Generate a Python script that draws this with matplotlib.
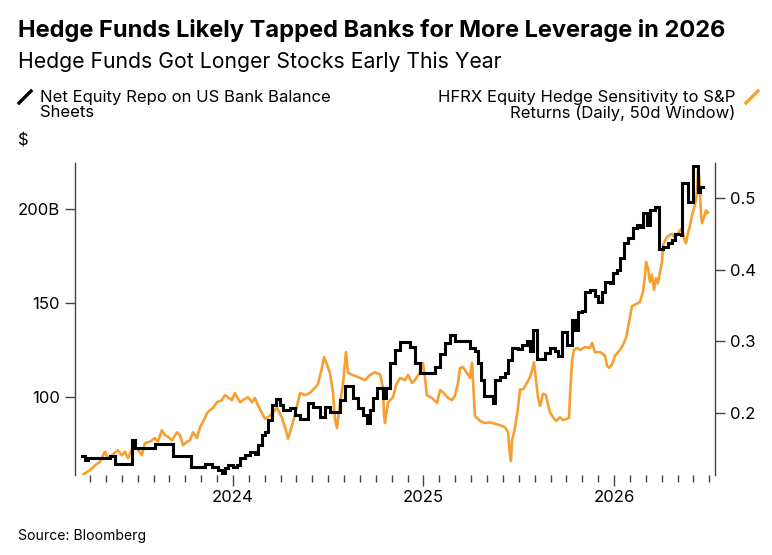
import matplotlib
matplotlib.use("Agg")
import matplotlib.pyplot as plt
from matplotlib.ticker import FixedLocator, MultipleLocator, FuncFormatter
from matplotlib.lines import Line2D

plt.rcParams['font.family'] = ['Inter', 'DejaVu Sans']

# ---- data (x in decimal years) ----
repo_t = [2023.207, 2023.223, 2023.239, 2023.354, 2023.381, 2023.470, 2023.486, 2023.591,
          2023.685, 2023.780, 2023.853, 2023.890, 2023.921, 2023.942, 2023.958, 2023.974,
          2024.000, 2024.021, 2024.037, 2024.063, 2024.089, 2024.115, 2024.131, 2024.152,
          2024.168, 2024.184, 2024.205, 2024.226, 2024.247, 2024.262, 2024.299, 2024.325,
          2024.352, 2024.394, 2024.420, 2024.457, 2024.483, 2024.509, 2024.562, 2024.588,
          2024.630, 2024.656, 2024.682, 2024.703, 2024.719, 2024.735, 2024.756, 2024.787,
          2024.803, 2024.824, 2024.850, 2024.877, 2024.929, 2024.955, 2024.982, 2025.060,
          2025.087, 2025.113, 2025.139, 2025.165, 2025.244, 2025.270, 2025.286, 2025.302,
          2025.318, 2025.365, 2025.375, 2025.402, 2025.428, 2025.444, 2025.465, 2025.496,
          2025.517, 2025.543, 2025.559, 2025.575, 2025.596, 2025.638, 2025.664, 2025.690,
          2025.706, 2025.727, 2025.753, 2025.780, 2025.795, 2025.811, 2025.832, 2025.848,
          2025.874, 2025.900, 2025.916, 2025.937, 2025.953, 2025.979, 2025.995, 2026.016,
          2026.031, 2026.052, 2026.073, 2026.100, 2026.121, 2026.136, 2026.152, 2026.173,
          2026.189, 2026.215, 2026.236, 2026.257, 2026.283, 2026.304, 2026.320, 2026.352,
          2026.357, 2026.388, 2026.415, 2026.441, 2026.451, 2026.467]
repo_v = [68.6, 66.5, 67.5, 68.6, 64.4, 77.0, 72.9, 75.0,
          68.8, 62.5, 64.5, 62.8, 61.0, 58.5, 62.0, 63.8,
          62.5, 64.0, 67.6, 69.0, 70.7, 69.5, 74.5, 80.0,
          81.4, 87.8, 95.7, 99.0, 95.5, 93.0, 94.0, 90.4,
          88.3, 97.0, 94.7, 89.4, 94.7, 92.0, 98.4, 106.0,
          99.5, 94.0, 90.4, 86.0, 93.0, 99.5, 104.8, 99.5,
          104.8, 118.0, 125.0, 129.5, 126.6, 118.0, 112.8, 116.0,
          123.0, 128.7, 133.0, 130.0, 126.0, 124.5, 118.0, 109.0,
          100.5, 96.8, 109.0, 110.6, 113.0, 119.7, 126.0, 125.5,
          127.7, 130.0, 124.4, 135.6, 120.0, 123.4, 126.0, 124.5,
          122.0, 134.6, 127.7, 141.0, 135.6, 145.0, 146.0, 156.0,
          157.0, 154.0, 150.5, 156.0, 161.0, 160.6, 166.0, 167.6,
          174.0, 182.0, 184.6, 190.0, 191.5, 190.5, 198.0, 191.5,
          199.5, 201.0, 179.0, 179.8, 182.0, 183.5, 186.7, 186.0,
          214.0, 204.0, 223.0, 209.0, 211.7, 211.7]

hfrx_t = [2023.207, 2023.223, 2023.249, 2023.276, 2023.302, 2023.328, 2023.344, 2023.365,
          2023.396, 2023.417, 2023.433, 2023.449, 2023.470, 2023.496, 2023.522, 2023.538,
          2023.564, 2023.591, 2023.606, 2023.627, 2023.643, 2023.659, 2023.680, 2023.706,
          2023.722, 2023.738, 2023.759, 2023.774, 2023.790, 2023.811, 2023.827, 2023.853,
          2023.864, 2023.879, 2023.895, 2023.916, 2023.942, 2023.958, 2023.974, 2023.995,
          2024.010, 2024.037, 2024.052, 2024.079, 2024.100, 2024.115, 2024.131, 2024.152,
          2024.168, 2024.194, 2024.220, 2024.231, 2024.257, 2024.278, 2024.289, 2024.299,
          2024.325, 2024.352, 2024.378, 2024.404, 2024.430, 2024.446, 2024.467, 2024.478,
          2024.493, 2024.509, 2024.525, 2024.535, 2024.546, 2024.562, 2024.577, 2024.593,
          2024.604, 2024.640, 2024.667, 2024.693, 2024.719, 2024.745, 2024.772, 2024.787,
          2024.793, 2024.798, 2024.814, 2024.840, 2024.856, 2024.877, 2024.903, 2024.919,
          2024.940, 2024.955, 2024.982, 2024.997, 2025.008, 2025.018, 2025.045, 2025.071,
          2025.087, 2025.102, 2025.129, 2025.150, 2025.165, 2025.181, 2025.192, 2025.207,
          2025.228, 2025.244, 2025.255, 2025.260, 2025.270, 2025.297, 2025.323, 2025.349,
          2025.375, 2025.402, 2025.428, 2025.444, 2025.454, 2025.459, 2025.465, 2025.480,
          2025.496, 2025.507, 2025.522, 2025.543, 2025.559, 2025.570, 2025.580, 2025.591,
          2025.601, 2025.612, 2025.627, 2025.643, 2025.654, 2025.664, 2025.680, 2025.696,
          2025.717, 2025.732, 2025.753, 2025.764, 2025.769, 2025.780, 2025.790, 2025.806,
          2025.822, 2025.848, 2025.874, 2025.885, 2025.900, 2025.927, 2025.953, 2025.963,
          2025.974, 2025.990, 2026.005, 2026.031, 2026.047, 2026.063, 2026.079, 2026.094,
          2026.115, 2026.136, 2026.152, 2026.163, 2026.168, 2026.178, 2026.189, 2026.199,
          2026.210, 2026.220, 2026.231, 2026.241, 2026.252, 2026.257, 2026.268, 2026.283,
          2026.304, 2026.320, 2026.336, 2026.346, 2026.357, 2026.367, 2026.378, 2026.388,
          2026.399, 2026.409, 2026.420, 2026.430, 2026.436, 2026.441, 2026.446, 2026.451,
          2026.457, 2026.462, 2026.472, 2026.483, 2026.488, 2026.493]
hfrx_v = [0.112, 0.116, 0.120, 0.127, 0.132, 0.146, 0.137, 0.141,
          0.148, 0.141, 0.146, 0.137, 0.150, 0.151, 0.141, 0.158,
          0.160, 0.165, 0.160, 0.176, 0.169, 0.167, 0.162, 0.173,
          0.169, 0.155, 0.160, 0.162, 0.173, 0.165, 0.180, 0.193,
          0.200, 0.204, 0.207, 0.215, 0.218, 0.225, 0.222, 0.218,
          0.228, 0.215, 0.218, 0.222, 0.215, 0.221, 0.211, 0.200,
          0.192, 0.196, 0.204, 0.207, 0.194, 0.176, 0.164, 0.173,
          0.197, 0.228, 0.225, 0.228, 0.235, 0.240, 0.263, 0.278,
          0.268, 0.256, 0.229, 0.193, 0.179, 0.215, 0.239, 0.285,
          0.256, 0.252, 0.249, 0.246, 0.253, 0.257, 0.254, 0.236,
          0.197, 0.186, 0.215, 0.222, 0.239, 0.249, 0.246, 0.253,
          0.242, 0.246, 0.257, 0.270, 0.249, 0.225, 0.221, 0.214,
          0.232, 0.229, 0.221, 0.218, 0.224, 0.242, 0.263, 0.264,
          0.256, 0.249, 0.270, 0.246, 0.196, 0.189, 0.186, 0.187,
          0.185, 0.183, 0.180, 0.173, 0.141, 0.133, 0.162, 0.179,
          0.207, 0.233, 0.233, 0.242, 0.250, 0.260, 0.271, 0.246,
          0.222, 0.210, 0.227, 0.225, 0.211, 0.201, 0.194, 0.189,
          0.194, 0.190, 0.192, 0.193, 0.225, 0.274, 0.288, 0.291,
          0.288, 0.292, 0.291, 0.298, 0.285, 0.285, 0.280, 0.266,
          0.263, 0.268, 0.280, 0.288, 0.295, 0.305, 0.327, 0.349,
          0.352, 0.355, 0.369, 0.393, 0.411, 0.402, 0.383, 0.393,
          0.372, 0.388, 0.381, 0.397, 0.411, 0.434, 0.441, 0.447,
          0.450, 0.445, 0.451, 0.455, 0.458, 0.444, 0.437, 0.451,
          0.462, 0.476, 0.486, 0.497, 0.511, 0.539, 0.532, 0.511,
          0.476, 0.465, 0.473, 0.483, 0.479, 0.480]

year_ticks = [2024, 2025, 2026]
left_ticks = [100, 150, 200]
right_ticks = [0.2, 0.3, 0.4, 0.5]

title = "Hedge Funds Likely Tapped Banks for More Leverage in 2026"
subtitle = "Hedge Funds Got Longer Stocks Early This Year"
label_repo = "Net Equity Repo on US Bank Balance\nSheets"
label_hfrx = "HFRX Equity Hedge Sensitivity to S&P\nReturns (Daily, 50d Window)"
source = "Source: Bloomberg"

BLACK = "#000000"
ORANGE = "#F6A032"
W, H = 772, 555

fig = plt.figure(figsize=(W / 100, H / 100), dpi=100)
ax = fig.add_axes([75 / W, 1 - 475 / H, (715 - 75) / W, (475 - 163) / H])
ax2 = ax.twinx()
ax.set_zorder(ax2.get_zorder() + 1)
ax.patch.set_visible(False)

ax2.plot(hfrx_t, hfrx_v, color=ORANGE, lw=1.9, solid_joinstyle='round')
ax.plot(repo_t, repo_v, color=BLACK, lw=2.2, drawstyle='steps-post', solid_joinstyle='miter')

ax.set_xlim(2023.171, 2026.530)
ax.set_ylim(58.5, 224.5)
ax2.set_ylim(0.1135, 0.549)

for a in (ax, ax2):
    for s in ('top', 'bottom'):
        a.spines[s].set_visible(False)
    a.spines['left'].set_color('#444444')
    a.spines['right'].set_color('#444444')
    a.spines['left'].set_linewidth(1.0)
    a.spines['right'].set_linewidth(1.0)
ax.spines['right'].set_visible(False)
ax2.spines['left'].set_visible(False)

ax.xaxis.set_major_locator(FixedLocator(year_ticks))
ax.xaxis.set_major_formatter(FuncFormatter(lambda v, p: f"{int(round(v))}"))
ax.xaxis.set_minor_locator(MultipleLocator(1 / 12))
ax.tick_params(axis='x', which='major', length=8, width=1.0, color='#444444',
               labelsize=12, pad=3)
ax.tick_params(axis='x', which='minor', length=5, width=1.0, color='#444444')

ax.yaxis.set_major_locator(FixedLocator(left_ticks))
ax.yaxis.set_major_formatter(FuncFormatter(lambda v, p: "200B" if v == 200 else f"{int(v)}"))
ax.tick_params(axis='y', length=7, width=1.0, color='#444444', labelsize=12, pad=4)

ax2.yaxis.set_major_locator(FixedLocator(right_ticks))
ax2.yaxis.set_major_formatter(FuncFormatter(lambda v, p: f"{v:.1f}"))
ax2.tick_params(axis='y', length=7, width=1.0, color='#444444', labelsize=12, pad=4)

# titles
fig.text(18 / W, 1 - 30 / H, title, fontsize=17.0, fontweight='bold', va='center', ha='left')
fig.text(18 / W, 1 - 62 / H, subtitle, fontsize=15.25, va='center', ha='left')

# legend
fig.add_artist(Line2D([19 / W, 31 / W], [1 - 103 / H, 1 - 91 / H], color=BLACK, lw=2.4,
                      transform=fig.transFigure))
fig.text(40 / W, 1 - 105 / H, label_repo, fontsize=12, va='center', ha='left', linespacing=1.0)
fig.add_artist(Line2D([746 / W, 758 / W], [1 - 103 / H, 1 - 91 / H], color=ORANGE, lw=2.4,
                      transform=fig.transFigure))
fig.text(735 / W, 1 - 105 / H, label_hfrx, fontsize=12, va='center', ha='right',
         linespacing=1.0, multialignment='right')

fig.text(18 / W, 1 - 141 / H, "$", fontsize=12, va='center', ha='left')
fig.text(18 / W, 1 - 536 / H, source, fontsize=10.1, va='center', ha='left')

fig.savefig("out.png", dpi=100)
